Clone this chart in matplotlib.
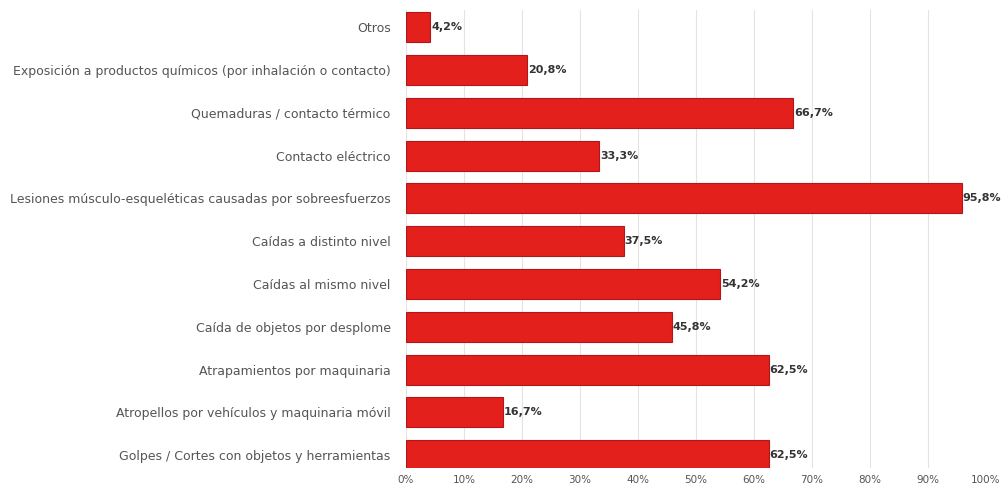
import matplotlib
matplotlib.use("Agg")
import matplotlib.pyplot as plt

categorias = [
    "Otros",
    "Exposición a productos químicos (por inhalación o contacto)",
    "Quemaduras / contacto térmico",
    "Contacto eléctrico",
    "Lesiones músculo-esqueléticas causadas por sobreesfuerzos",
    "Caídas a distinto nivel",
    "Caídas al mismo nivel",
    "Caída de objetos por desplome",
    "Atrapamientos por maquinaria",
    "Atropellos por vehículos y maquinaria móvil",
    "Golpes / Cortes con objetos y herramientas",
]
porcentajes = [4.2, 20.8, 66.7, 33.3, 95.8, 37.5, 54.2, 45.8, 62.5, 16.7, 62.5]
ticks = [0, 10, 20, 30, 40, 50, 60, 70, 80, 90, 100]
tick_labels = [f"{t}%" for t in ticks]

rojo = "#e3201b"
borde = "#b3161a"

fig = plt.figure(figsize=(10.05, 4.95), dpi=100)
ax = fig.add_axes([406 / 1005, 27 / 495, 580 / 1005, 458 / 495])

pos = list(range(len(categorias)))
ax.barh(pos, porcentajes, height=0.7, color=rojo, edgecolor=borde, linewidth=0.8, zorder=3)

for y, v in zip(pos, porcentajes):
    txt = f"{v:.1f}%".replace(".", ",")
    ax.text(v + 0.2, y, txt, va="center", ha="left", fontsize=8,
            fontweight="bold", color="#333333", zorder=4)

ax.set_xlim(0, 100)
ax.set_ylim(10.3, -0.4)
ax.set_yticks(pos)
ax.set_yticklabels(categorias, fontsize=9, color="#555555")
ax.set_xticks(ticks)
ax.set_xticklabels(tick_labels, fontsize=7.5, color="#555555")
ax.tick_params(axis="y", length=0, pad=11)
ax.tick_params(axis="x", length=0, pad=5)
ax.grid(axis="x", color="#e3e3e3", linewidth=0.8, zorder=0)
for s in ax.spines.values():
    s.set_visible(False)

fig.savefig("out.png", dpi=100, facecolor="white")
